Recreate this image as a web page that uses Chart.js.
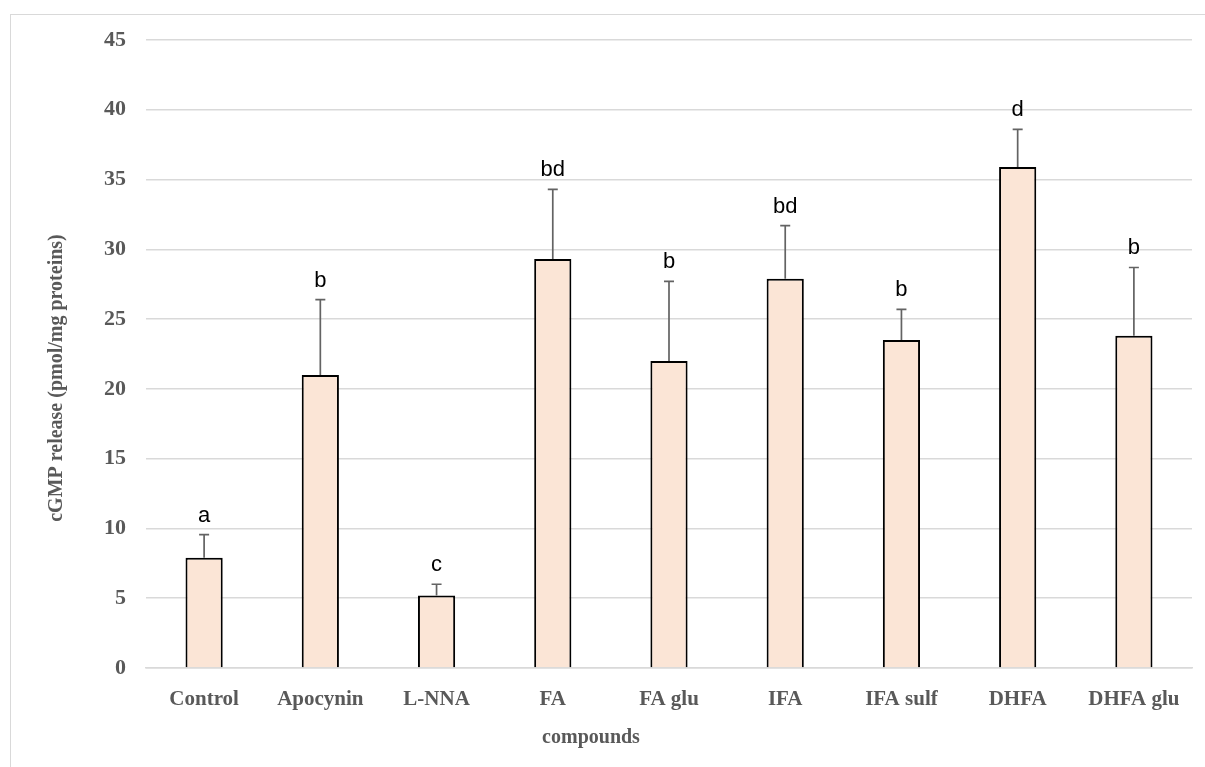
<!DOCTYPE html>
<html>
<head>
<meta charset="utf-8">
<script src="https://cdn.jsdelivr.net/npm/chart.js@4/dist/chart.umd.min.js"></script>
<style>
  body { margin: 0; background: #fff; overflow: hidden; }
  #wrap { position: relative; width: 1205px; height: 767px; }
  #frame { position: absolute; left: 10px; top: 14px; width: 1300px; height: 900px; border: 1.5px solid #d9d9d9; box-sizing: border-box; }
  canvas { position: absolute; left: 0; top: 0; }
</style>
</head>
<body>
<div id="wrap">
  <div id="frame"></div>
  <canvas id="graph" width="1205" height="767"></canvas>
</div>
<script>
const compounds = ["Control", "Apocynin", "L-NNA", "FA", "FA glu", "IFA", "IFA sulf", "DHFA", "DHFA glu"];
const cgmp = [7.9, 21.0, 5.2, 29.3, 22.0, 27.9, 23.5, 35.9, 23.8];
const sd = [1.65, 5.4, 0.8, 5.0, 5.7, 3.8, 2.2, 2.7, 4.9];
const letters = ["a", "b", "c", "bd", "b", "bd", "b", "d", "b"];
const yTicks = [0, 5, 10, 15, 20, 25, 30, 35, 40, 45];

const serif = "'Liberation Serif', 'Times New Roman', serif";
const gray = "#595959";

// error bars + significance letters + axis titles
const extras = {
    id: "extras",
    afterDatasetsDraw(chart) {
        const ctx = chart.ctx;
        const y = chart.scales.y;
        const bars = chart.getDatasetMeta(0).data;
        ctx.save();
        bars.forEach((bar, i) => {
            const top = y.getPixelForValue(cgmp[i] + sd[i]);
            ctx.strokeStyle = "#636363";
            ctx.lineWidth = 1.7;
            ctx.beginPath();
            ctx.moveTo(bar.x, bar.y);
            ctx.lineTo(bar.x, top);
            ctx.moveTo(bar.x - 5, top);
            ctx.lineTo(bar.x + 5, top);
            ctx.stroke();
            ctx.fillStyle = "#000";
            ctx.font = "22px 'Liberation Sans', Arial, sans-serif";
            ctx.textAlign = "center";
            ctx.textBaseline = "alphabetic";
            ctx.fillText(letters[i], bar.x, top - 13);
        });
        ctx.fillStyle = gray;
        ctx.font = "bold 20px " + serif;
        ctx.textAlign = "center";
        ctx.textBaseline = "middle";
        ctx.fillText("compounds", 591, 738);
        ctx.translate(57, 378);
        ctx.rotate(-Math.PI / 2);
        ctx.fillText("cGMP release (pmol/mg proteins)", 0, 0);
        ctx.restore();
    }
};

new Chart("graph", {
    type: "bar",
    data: {
        labels: compounds,
        datasets: [{
            data: cgmp,
            backgroundColor: "#fbe5d6",
            borderColor: "#000",
            borderWidth: 2,
            categoryPercentage: 1,
            barPercentage: 0.32
        }]
    },
    options: {
        responsive: false,
        animation: false,
        layout: { padding: { left: 0, top: 40, right: 13, bottom: 0 } },
        scales: {
            x: {
                grid: { display: false },
                border: { color: "#d9d9d9", width: 1.5 },
                ticks: {
                    color: gray,
                    font: { family: serif, size: 21, weight: "bold" },
                    padding: 11,
                    maxRotation: 0
                },
                afterFit: (scale) => { scale.height = 99; }
            },
            y: {
                min: 0,
                max: 45,
                afterBuildTicks: (scale) => { scale.ticks = yTicks.map(v => ({ value: v })); },
                grid: { color: "#d9d9d9", lineWidth: 1.5, drawTicks: false },
                border: { display: false },
                ticks: {
                    color: gray,
                    font: { family: serif, size: 22, weight: "bold" },
                    padding: 20
                },
                afterFit: (scale) => { scale.width = 146; }
            }
        },
        plugins: {
            legend: { display: false },
            tooltip: { enabled: false }
        }
    },
    plugins: [extras]
});
</script>
</body>
</html>
